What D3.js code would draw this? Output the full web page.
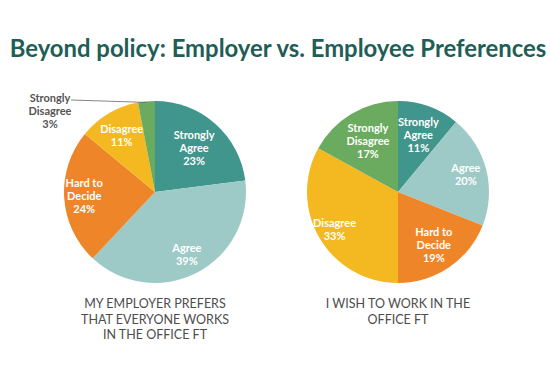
<!DOCTYPE html>
<html>
<head>
<meta charset="utf-8">
<script src="https://cdn.jsdelivr.net/npm/d3@7"></script>
<style>
  body { margin: 0; background: #fff; }
  svg { display: block; }
</style>
</head>
<body>
<svg width="551" height="367"></svg>
<script>
// answer categories, in clockwise order from 12 o'clock
var categories = ["Strongly Agree", "Agree", "Hard to Decide", "Disagree", "Strongly Disagree"];
var employerValues = [23, 39, 24, 11, 3];
var employeeValues = [11, 20, 19, 33, 17];
var titleText = "Beyond policy: Employer vs. Employee Preferences";
var employerCaption = ["MY EMPLOYER PREFERS", "THAT EVERYONE WORKS", "IN THE OFFICE FT"];
var employeeCaption = ["I WISH TO WORK IN THE", "OFFICE FT"];

var colors = d3.scaleOrdinal()
    .domain(categories)
    .range(["#40958c", "#9dcac6", "#ef8529", "#f4b820", "#6aab5f"]);

// how the labels are split over lines
var labelLines = {
  "Strongly Agree": ["Strongly", "Agree"],
  "Agree": ["Agree"],
  "Hard to Decide": ["Hard to", "Decide"],
  "Disagree": ["Disagree"],
  "Strongly Disagree": ["Strongly", "Disagree"]
};

var svg = d3.select("svg");

var title = svg.append("text")
    .attr("x", 278)
    .attr("y", 57)
    .attr("text-anchor", "middle")
    .attr("font-family", "Lato, 'Open Sans', sans-serif")
    .attr("font-weight", "bold")
    .attr("font-size", 22)
    .attr("fill", "#1f5d57")
    .text(titleText);
// fit the title to the width it has in the picture
var tw = title.node().getComputedTextLength();
title.attr("font-size", 22 * 537 / tw);

var pie = d3.pie().sort(null).value(function(d) { return d.value; });
var radius = 91;
var arc = d3.arc().innerRadius(0).outerRadius(radius);

function drawPie(cx, cy, values, labelR, caption) {
  var data = categories.map(function(c, i) { return { name: c, value: values[i] }; });
  var g = svg.append("g").attr("transform", "translate(" + cx + "," + cy + ")");
  var arcs = pie(data);

  g.selectAll("path")
    .data(arcs)
    .enter().append("path")
      .attr("d", arc)
      .attr("fill", function(d) { return colors(d.data.name); });

  var labels = g.selectAll("text.slice")
    .data(arcs.filter(function(d) { return labelR[d.index] > 0; }))
    .enter().append("text")
      .attr("class", "slice")
      .attr("text-anchor", "middle")
      .attr("font-family", "Lato, sans-serif")
      .attr("font-weight", "bold")
      .attr("font-size", 11)
      .attr("fill", "#fff")
      .attr("transform", function(d) {
        var r = radius * labelR[d.index];
        var a = (d.startAngle + d.endAngle) / 2;
        return "translate(" + (Math.sin(a) * r) + "," + (-Math.cos(a) * r) + ")";
      });

  labels.each(function(d) {
    var lines = labelLines[d.data.name].concat([d.data.value + "%"]);
    var t = d3.select(this);
    var y0 = -(lines.length - 1) * 13 / 2 + 4;
    lines.forEach(function(l, i) {
      t.append("tspan").attr("x", 0).attr("y", y0 + i * 13).text(l);
    });
  });

  svg.append("g")
    .attr("text-anchor", "middle")
    .attr("font-family", "Lato, sans-serif")
    .attr("font-size", 12.5)
    .attr("fill", "#4d4d4d")
    .selectAll("text")
    .data(caption)
    .enter().append("text")
      .attr("x", cx)
      .attr("y", function(d, i) { return 308 + i * 15.7; })
      .text(function(d) { return d; });

  return arcs;
}

var leftArcs = drawPie(155, 192, employerValues, [0.65, 0.77, 0.78, 0.72, 0], employerCaption);
drawPie(398, 192, employeeValues, [0.66, 0.77, 0.70, 0.81, 0.65], employeeCaption);

// outside label for the thin "Strongly Disagree" slice
var sd = leftArcs[4];
var sdAngle = (sd.startAngle + sd.endAngle) / 2;
var sdX = 155 + Math.sin(sdAngle) * (radius - 1), sdY = 192 - Math.cos(sdAngle) * (radius - 1);
svg.append("line")
    .attr("x1", 71).attr("y1", 100)
    .attr("x2", sdX).attr("y2", sdY)
    .attr("stroke", "#666")
    .attr("stroke-width", 0.8);

var sdLabel = svg.append("text")
    .attr("text-anchor", "middle")
    .attr("font-family", "Lato, sans-serif")
    .attr("font-weight", "bold")
    .attr("font-size", 11)
    .attr("fill", "#555");
["Strongly", "Disagree", sd.data.value + "%"].forEach(function(l, i) {
  sdLabel.append("tspan").attr("x", 50).attr("y", 102 + i * 13).text(l);
});
</script>
</body>
</html>
